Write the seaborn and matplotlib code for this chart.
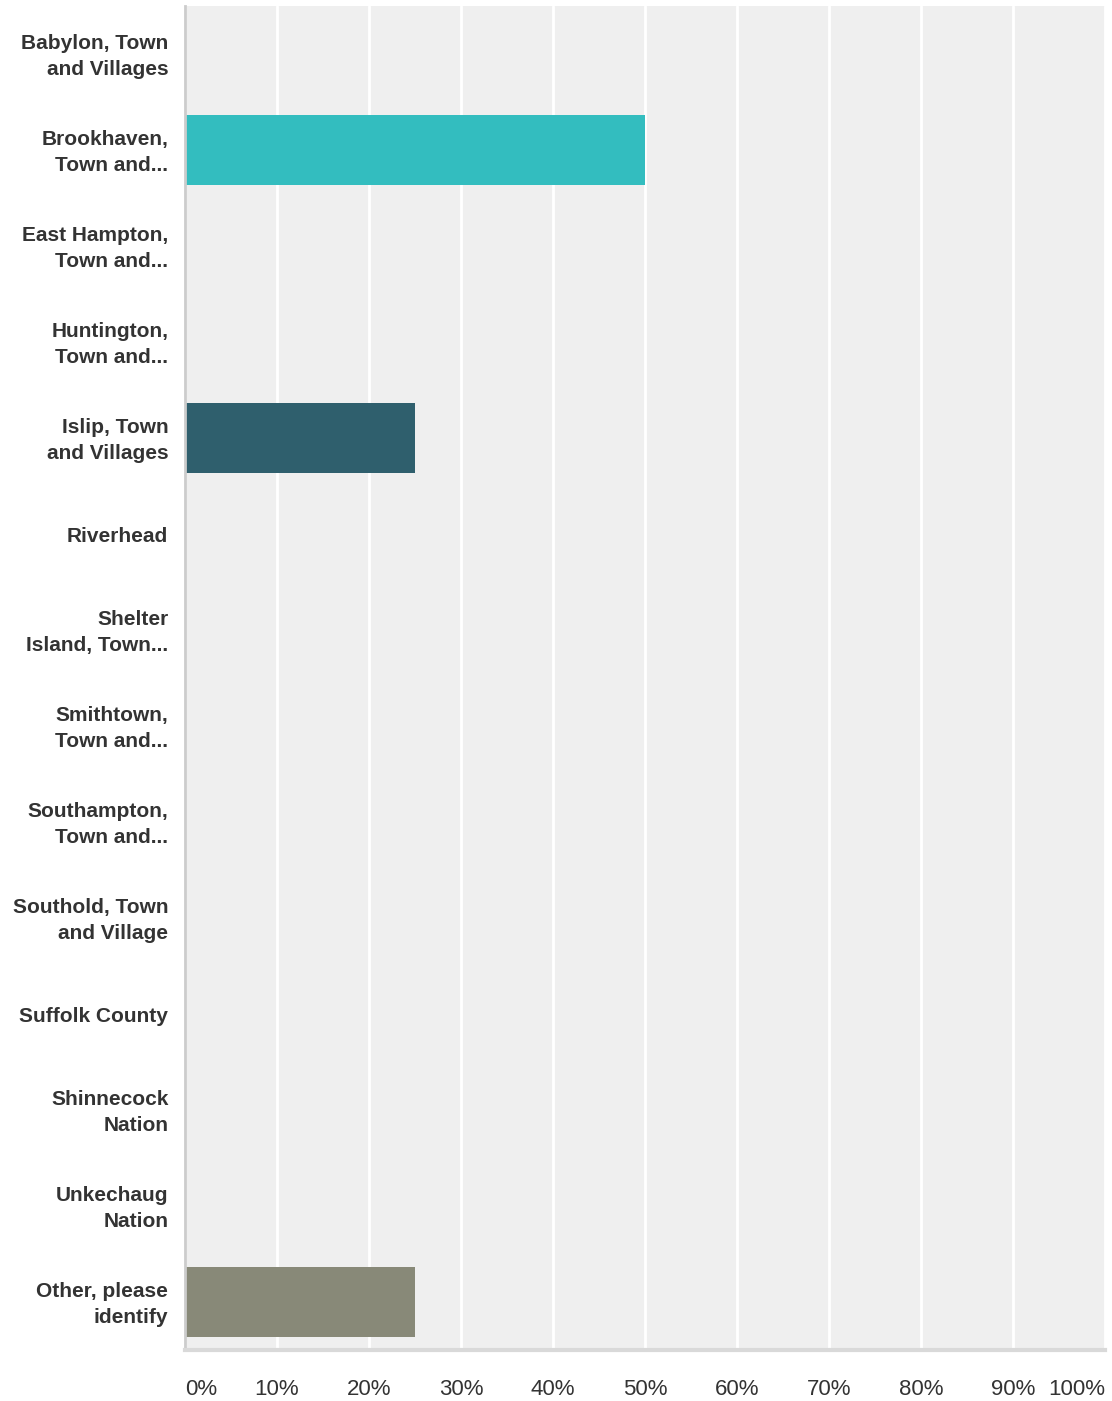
import matplotlib
matplotlib.use("Agg")
import matplotlib.pyplot as plt
import matplotlib.transforms as mtransforms
import seaborn as sns
import pandas as pd

labels = ["Babylon, Town\nand Villages", "Brookhaven,\nTown and...", "East Hampton,\nTown and...",
          "Huntington,\nTown and...", "Islip, Town\nand Villages", "Riverhead",
          "Shelter\nIsland, Town...", "Smithtown,\nTown and...", "Southampton,\nTown and...",
          "Southold, Town\nand Village", "Suffolk County", "Shinnecock\nNation",
          "Unkechaug\nNation", "Other, please\nidentify"]
values = [0, 50, 0, 0, 25, 0, 0, 0, 0, 0, 0, 0, 0, 25]
colors = ["#EFEFEF", "#33BDBF", "#EFEFEF", "#EFEFEF", "#2F5F6D", "#EFEFEF", "#EFEFEF",
          "#EFEFEF", "#EFEFEF", "#EFEFEF", "#EFEFEF", "#EFEFEF", "#EFEFEF", "#888978"]
tick_vals = [0, 10, 20, 30, 40, 50, 60, 70, 80, 90, 100]

df = pd.DataFrame({"label": labels, "value": values})

sns.set_style("white")
plt.rcParams['font.family'] = ['Liberation Sans', 'DejaVu Sans']

fig = plt.figure(figsize=(11.12, 14.01), dpi=100)
ax = fig.add_axes([185/1112, 51/1401, 920/1112, 1344/1401])
ax.set_facecolor("#EFEFEF")

sns.barplot(data=df, x="value", y="label", hue="label", palette=colors, legend=False,
            width=0.73, saturation=1, linewidth=0, ax=ax, zorder=3)

ax.set_xlim(0, 100)
ax.set_ylim(len(labels) - 0.5, -0.5)
ax.set_xticks(tick_vals)
for t in tick_vals:
    ax.axvline(t, color="white", lw=2, zorder=1)

ax.set_xticklabels([f"{t}%" for t in tick_vals], fontsize=16, color="#333333")
for i, tl in enumerate(ax.get_xticklabels()):
    if i == 0:
        tl.set_ha("left")
    elif i == len(tick_vals) - 1:
        tl.set_ha("right")
ax.tick_params(axis="x", length=0, pad=21)
ax.tick_params(axis="y", length=0, pad=12)

# nudge two-line labels up a bit
up = mtransforms.ScaledTranslation(0, 3.5/100, fig.dpi_scale_trans)
for tl in ax.get_yticklabels():
    tl.set_fontsize(15)
    tl.set_fontweight("bold")
    tl.set_color("#333333")
    tl.set_linespacing(1.52)
    tl.set_ha("right")
    tl.set_multialignment("right")
    if "\n" in tl.get_text():
        tl.set_transform(tl.get_transform() + up)

ax.set_xlabel("")
ax.set_ylabel("")
for s in ["top", "right"]:
    ax.spines[s].set_visible(False)
ax.spines["left"].set_color("#CCCCCC")
ax.spines["left"].set_linewidth(2)
ax.spines["left"].set_zorder(5)
ax.spines["bottom"].set_color("#D9D9D9")
ax.spines["bottom"].set_linewidth(3)
ax.spines["bottom"].set_zorder(5)

fig.savefig("out.png", dpi=100)
